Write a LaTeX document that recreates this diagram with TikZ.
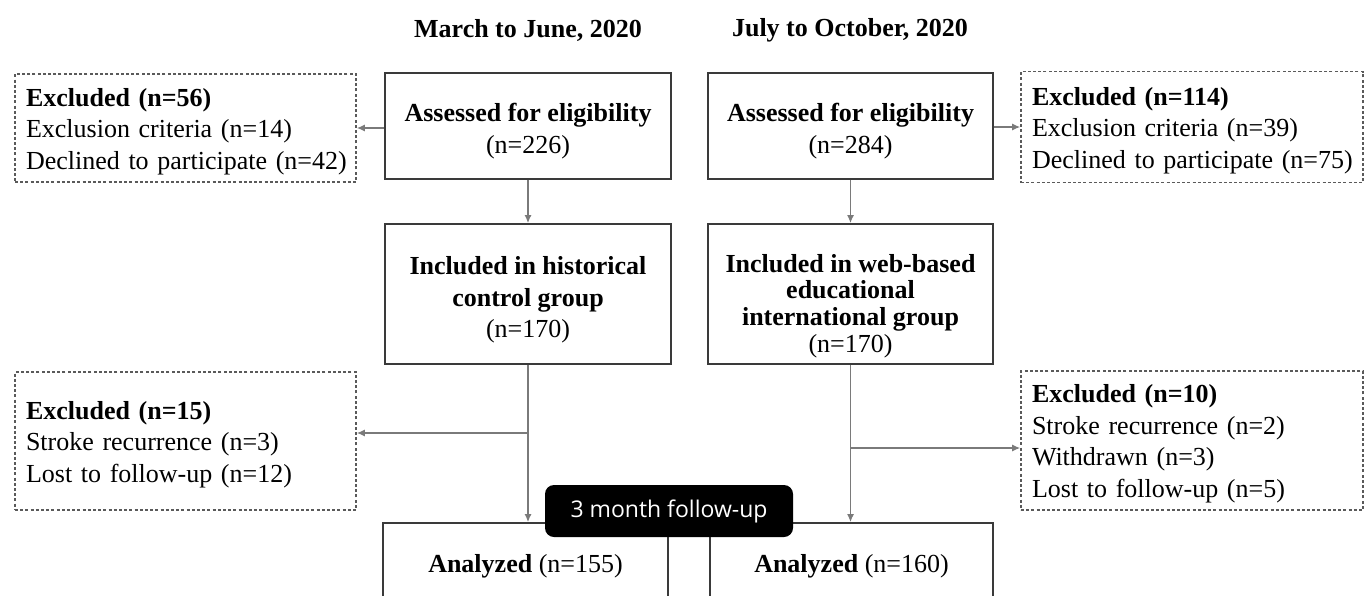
\documentclass[tikz,border=0pt]{standalone}
\usepackage{fontspec}
\setmainfont{Liberation Serif}
\newfontfamily\labelfont{Open Sans}
\usetikzlibrary{arrows.meta}
\definecolor{boxgray}{HTML}{3A3A3A}
\definecolor{linegray}{HTML}{7A7A7A}
\definecolor{dashgray}{HTML}{5A5A5A}
\newcommand{\mainsize}{\fontsize{26}{31.5}\selectfont}
\newcommand{\lift}[1]{\rule{0pt}{#1pt}}
\tikzset{
  box/.style={draw=boxgray, line width=1.8pt, align=center, inner sep=0pt, font=\mainsize},
  exbox/.style={draw=dashgray, line width=1.6pt, dash pattern=on 3pt off 2.2pt, align=left,
    inner xsep=11pt, inner ysep=0pt, font=\mainsize},
  conn/.style={draw=linegray, line width=1.3pt, -{Latex[length=8pt,width=7pt]}},
  title/.style={font=\mainsize\bfseries, inner sep=0pt},
  tag/.style={fill=black, text=white, rounded corners=9pt, font=\labelfont\fontsize{23}{26}\selectfont,
    minimum width=248pt, minimum height=52pt, inner sep=0pt}
}
\begin{document}
\begin{tikzpicture}[x=1pt,y=-1pt]
\useasboundingbox (0,0) rectangle (1371,595);
\clip (0,0) rectangle (1371,595);
% titles
\node[title] (tL) at (528,30) {March to June, 2020};
\node[title] (tR) at (850,30) {July to October, 2020};
% assessed
\node[box, minimum width=286pt, minimum height=106pt] (asL) at (528,126)
  {\lift{28.5}\textbf{Assessed for eligibility}\\(n=226)};
\node[box, minimum width=285pt, minimum height=106pt] (asR) at (850.5,126)
  {\lift{28.5}\textbf{Assessed for eligibility}\\(n=284)};
% excluded top
\node[exbox, minimum width=341pt, minimum height=108pt, text width=319pt] (exTL) at (185.5,128)
  {\lift{25.5}\textbf{Excluded (n=56)}\\Exclusion criteria (n=14)\\\mbox{Declined to participate (n=42)}};
\node[exbox, minimum width=342pt, minimum height=111pt, text width=320pt] (exTR) at (1192,127)
  {\lift{25.5}\textbf{Excluded (n=114)}\\Exclusion criteria (n=39)\\\mbox{Declined to participate (n=75)}};
% included
\node[box, minimum width=286pt, minimum height=140pt] (inL) at (528,294)
  {\lift{30.5}\textbf{Included in historical}\\\textbf{control group}\\(n=170)};
\node[box, minimum width=285pt, minimum height=140pt, font=\fontsize{26}{26.8}\selectfont] (inR) at (850.5,294)
  {\lift{42}\textbf{Included in web-based}\\\textbf{educational}\\\textbf{international group}\\(n=170)};
% excluded middle
\node[exbox, minimum width=341pt, minimum height=138pt, text width=319pt] (exML) at (185.5,441)
  {\lift{25.5}\textbf{Excluded (n=15)}\\Stroke recurrence (n=3)\\Lost to follow-up (n=12)};
\node[exbox, minimum width=342pt, minimum height=139pt, text width=320pt] (exMR) at (1192,440.5)
  {\lift{25}\textbf{Excluded (n=10)}\\Stroke recurrence (n=2)\\Withdrawn (n=3)\\Lost to follow-up (n=5)};
% analyzed
\node[box, minimum width=285pt, minimum height=80pt] (anL) at (525.5,563)
  {\lift{24.5}\textbf{Analyzed} (n=155)};
\node[box, minimum width=283pt, minimum height=80pt] (anR) at (851.5,563)
  {\lift{24.5}\textbf{Analyzed} (n=160)};
% follow-up tag
\node[tag] (fu) at (669,511) {3 month follow-up};
% connectors
\draw[conn] (asL.west |- exTL.east) -- (exTL.east);
\draw[conn] (asR.east |- exTR.west) -- (exTR.west);
\draw[conn] (asL) -- (inL);
\draw[conn] (asR) -- (inR);
\draw[conn] (inL.south) -- (inL.south |- anL.north);
\draw[conn] (inR.south) -- (inR.south |- anR.north);
\coordinate (brL) at (528,433);
\coordinate (brR) at (850.5,448);
\draw[conn] (brL) -- (brL -| exML.east);
\draw[conn] (brR) -- (brR -| exMR.west);
\end{tikzpicture}
\end{document}
